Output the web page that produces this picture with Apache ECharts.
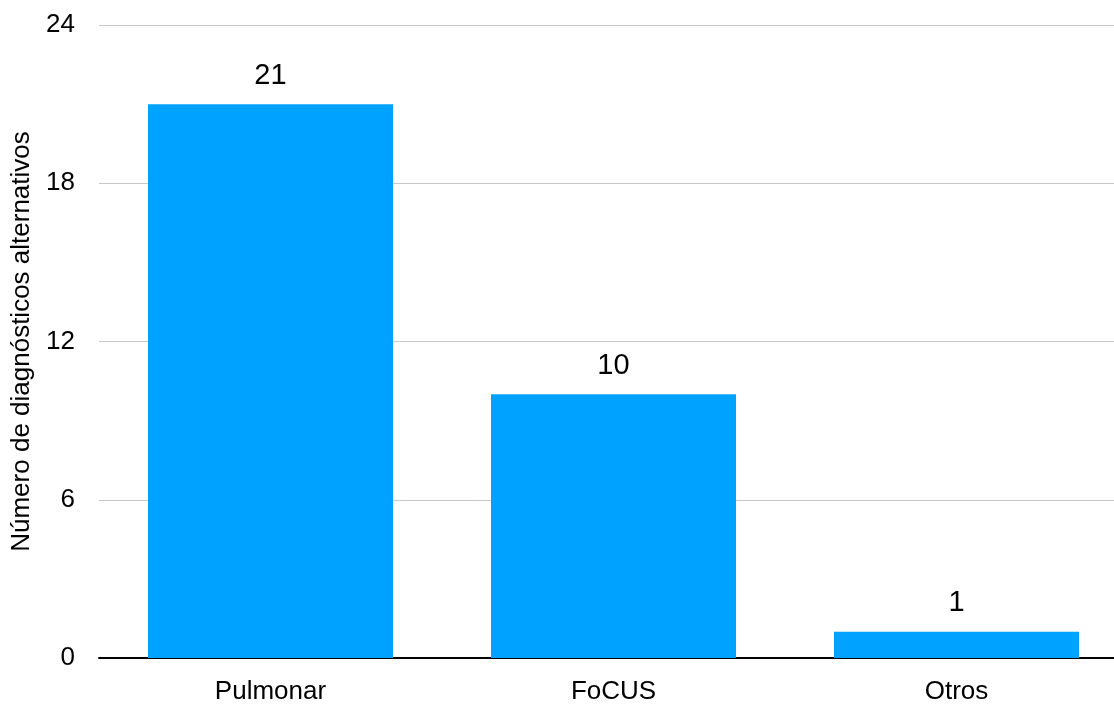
<!DOCTYPE html>
<html>
<head>
<meta charset="utf-8">
<script src="https://cdn.jsdelivr.net/npm/echarts@6/dist/echarts.min.js"></script>
<style>
  html, body { margin: 0; padding: 0; background: #fff; }
  #chart { width: 1114px; height: 704px; }
</style>
</head>
<body>
<div id="chart"></div>
<script>
// Alternative diagnoses found, by type of ultrasound
const categories = ['Pulmonar', 'FoCUS', 'Otros'];
const diagnosticos = [21, 10, 1];
const yTicks = [0, 6, 12, 18, 24];

const FONT = '"Liberation Sans", Arial, Helvetica, sans-serif';

const chart = echarts.init(document.getElementById('chart'), null, { renderer: 'canvas' });
chart.setOption({
  animation: false,
  backgroundColor: '#ffffff',
  grid: {
    left: 99, right: -14, top: 25, bottom: 46,
    containLabel: false,
    outerBoundsMode: 'none'
  },
  xAxis: {
    type: 'category',
    data: categories,
    axisLine: { show: true, lineStyle: { color: '#000', width: 2 } },
    axisTick: { show: false },
    axisLabel: { color: '#000', fontSize: 26, fontFamily: FONT, margin: 21 }
  },
  yAxis: {
    type: 'value',
    min: yTicks[0],
    max: yTicks[yTicks.length - 1],
    interval: 6,
    name: 'Número de diagnósticos alternativos',
    nameLocation: 'middle',
    nameGap: 64,
    nameTextStyle: { color: '#000', fontSize: 26, fontFamily: FONT },
    axisLine: { show: false },
    axisTick: { show: false },
    axisLabel: { color: '#000', fontSize: 26, fontFamily: FONT, margin: 24 },
    splitLine: { lineStyle: { color: '#c8c8c8', width: 1 } }
  },
  series: [{
    type: 'bar',
    data: diagnosticos,
    barWidth: 245,
    itemStyle: { color: '#00A2FF' },
    label: {
      show: true,
      position: 'top',
      distance: 14,
      color: '#000',
      fontSize: 29,
      fontFamily: FONT
    }
  }]
});
</script>
</body>
</html>
